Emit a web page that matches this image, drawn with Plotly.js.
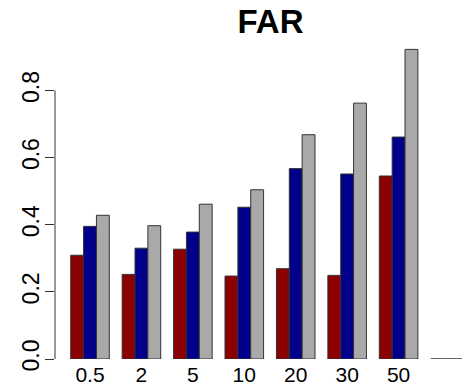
<!DOCTYPE html>
<html>
<head>
<meta charset="utf-8">
<script src="https://cdn.plot.ly/plotly-3.0.1.min.js"></script>
<style>html,body{margin:0;padding:0;background:#fff;}#chart{width:462px;height:391px;}</style>
</head>
<body>
<div id="chart"></div>
<script>
var categories = ["0.5", "2", "5", "10", "20", "30", "50", ""];
var seriesRed  = [0.309, 0.252, 0.327, 0.247, 0.269, 0.249, 0.545, 0];
var seriesBlue = [0.395, 0.330, 0.378, 0.452, 0.567, 0.551, 0.661, 0];
var seriesGray = [0.428, 0.397, 0.461, 0.504, 0.668, 0.762, 0.922, 0];
var yTicks = [0, 0.2, 0.4, 0.6, 0.8];
var yTickText = ["0.0", "0.2", "0.4", "0.6", "0.8"];

var pos = categories.map(function (c, i) { return i; });
var outline = {color: '#333333', width: 1};

function bar(name, vals, color) {
  return {type: 'bar', name: name, x: pos, y: vals,
    marker: {color: color, line: outline}, hoverinfo: 'x+y'};
}

var data = [
  bar('Series 1', seriesRed, '#8B0000'),
  bar('Series 2', seriesBlue, '#00008B'),
  bar('Series 3', seriesGray, '#A9A9A9')
];

var layout = {
  width: 462, height: 391,
  margin: {l: 55, r: 0, t: 39.6, b: 32.3, pad: 0},
  paper_bgcolor: '#ffffff', plot_bgcolor: '#ffffff',
  showlegend: false,
  barmode: 'group', bargap: 0.25, bargroupgap: 0,
  font: {family: 'Liberation Sans, Arial, sans-serif', color: '#000'},
  title: {text: 'FAR', font: {family: 'Liberation Sans, Arial, sans-serif', size: 33, weight: 'bold', color: '#000'},
    xref: 'container', yref: 'container', x: 0.5855, xanchor: 'center', y: 0.946, yanchor: 'middle'},
  xaxis: {range: [-0.6806, 7.233], tickvals: pos, ticktext: categories,
    showline: false, showgrid: false, zeroline: false, ticks: '',
    tickfont: {size: 21}, ticklabelstandoff: 1, fixedrange: true},
  yaxis: {range: [0, 0.95], tickvals: yTicks, ticktext: yTickText, tickangle: -90,
    showline: false, showgrid: false, zeroline: false, ticks: 'outside', ticklen: 9,
    tickcolor: '#333333', tickwidth: 1, tickfont: {size: 23}, ticklabelstandoff: -3, fixedrange: true},
  shapes: [{type: 'line', xref: 'paper', yref: 'y', x0: 0, x1: 0,
    y0: yTicks[0], y1: yTicks[yTicks.length - 1], line: {color: '#333333', width: 1}}]
};

Plotly.newPlot('chart', data, layout, {displayModeBar: false, staticPlot: true});
</script>
</body>
</html>
